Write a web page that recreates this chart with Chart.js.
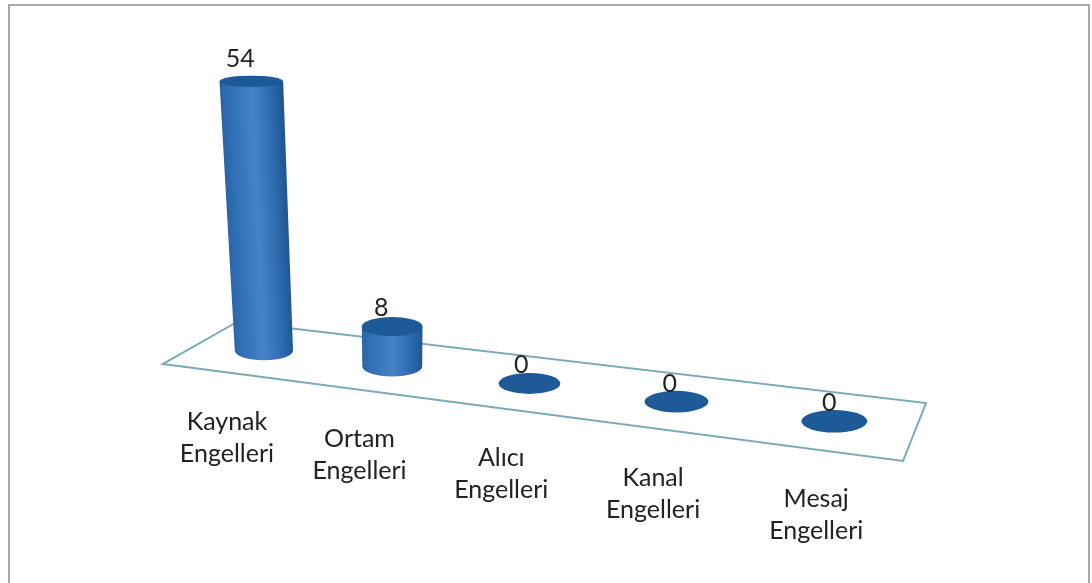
<!DOCTYPE html>
<html>
<head>
<meta charset="utf-8">
<style>
html,body{margin:0;padding:0;background:#fff;overflow:hidden}
#wrap{position:absolute;left:0;top:0;width:1092px;height:583px}
</style>
<script src="https://cdn.jsdelivr.net/npm/chart.js@4"></script>
</head>
<body>
<div id="wrap"><canvas id="c" width="1092" height="583"></canvas></div>
<script>
const categories = ["Kaynak Engelleri", "Ortam Engelleri", "Alıcı Engelleri", "Kanal Engelleri", "Mesaj Engelleri"];
const values = [54, 8, 0, 0, 0];
const yMax = 60;

// Perspective of the 3-D floor (front-left, front-right, back-right, back-left)
const floorQuad = [[163,364],[903,461],[926,403],[237,322]];
const vanishing = [400,3260];
const FONT = '25px Lato, "Open Sans", sans-serif';
const TEXT = '#222222';

function makeHomography(q){
  const [[x0,y0],[x1,y1],[x2,y2],[x3,y3]] = q;
  const dx1=x1-x2, dx2=x3-x2, sx=x0-x1+x2-x3;
  const dy1=y1-y2, dy2=y3-y2, sy=y0-y1+y2-y3;
  const det=dx1*dy2-dx2*dy1;
  const g=(sx*dy2-dx2*sy)/det, h=(dx1*sy-sx*dy1)/det;
  const a=x1-x0+g*x1, b=x3-x0+h*x3, d=y1-y0+g*y1, e=y3-y0+h*y3;
  return (u,v)=>{const w=g*u+h*v+1;return [(a*u+b*v+x0)/w,(d*u+e*v+y0)/w];};
}
const project = makeHomography(floorQuad);
const DEPTH = 0.49;
const U_SHIFT = 0.0035;

function cylinderGeom(chart, bar){
  const ca = chart.chartArea;
  const u = (bar.x-ca.left)/ca.width + U_SHIFT;
  const hw = bar.width/2/ca.width;
  const b = project(u,DEPTH);
  const raw = Math.abs(project(u+hw,DEPTH)[0]-project(u-hw,DEPTH)[0])/2;
  const rx = raw*0.5+17;
  const hPx = bar.base-bar.y;
  const t = hPx/(vanishing[1]-b[1]);
  const top = [b[0]+t*(b[0]-vanishing[0]), b[1]-hPx];
  const rxTop = rx*(1+t);
  return {b, top, rx, rxTop, ryB:rx*0.34, ryT:rxTop*Math.max(0.14,0.34-0.0006*hPx), hPx};
}

let activeChart = null;
Chart.BarElement.prototype.draw = function(ctx){
  const g = cylinderGeom(activeChart, this);
  ctx.save();
  if (g.hPx > 0.5){
    const mx=(g.b[0]+g.top[0])/2, my=(g.b[1]+g.top[1])/2;
    const ax=g.top[0]-g.b[0], ay=g.top[1]-g.b[1], L=Math.hypot(ax,ay);
    const px=-ay/L, py=ax/L, r=(g.rx+g.rxTop)/2;
    const grad=ctx.createLinearGradient(mx-px*r,my-py*r,mx+px*r,my+py*r);
    grad.addColorStop(0,'#2a64a6');
    grad.addColorStop(0.15,'#3070b5');
    grad.addColorStop(0.5,'#4682c6');
    grad.addColorStop(0.8,'#2f6bb1');
    grad.addColorStop(1,'#1d5690');
    ctx.beginPath();
    ctx.moveTo(g.top[0]-g.rxTop,g.top[1]);
    ctx.lineTo(g.b[0]-g.rx,g.b[1]);
    ctx.ellipse(g.b[0],g.b[1],g.rx,g.ryB,0,Math.PI,0,true);
    ctx.lineTo(g.top[0]+g.rxTop,g.top[1]);
    ctx.closePath();
    ctx.fillStyle=grad;
    ctx.fill();
  }
  ctx.beginPath();
  ctx.ellipse(g.top[0],g.top[1],g.rxTop,g.ryT,0,0,Math.PI*2);
  ctx.fillStyle='#1e5a98';
  ctx.fill();
  ctx.restore();
};

const scene = {
  id:'scene',
  beforeInit(chart){ activeChart = chart; },
  beforeDraw(chart){
    const ctx=chart.ctx;
    ctx.save();
    ctx.fillStyle='#fff';
    ctx.fillRect(0,0,chart.width,chart.height);
    ctx.strokeStyle='#a9a9a9';
    ctx.lineWidth=2;
    ctx.beginPath();
    ctx.moveTo(9,chart.height);
    ctx.lineTo(9,5);
    ctx.lineTo(1089,5);
    ctx.lineTo(1089,chart.height);
    ctx.stroke();
    ctx.restore();
  },
  beforeDatasetsDraw(chart){
    const ctx=chart.ctx;
    ctx.save();
    ctx.strokeStyle='#7aaaba';
    ctx.lineWidth=2;
    ctx.beginPath();
    floorQuad.forEach((p,i)=> i?ctx.lineTo(p[0],p[1]):ctx.moveTo(p[0],p[1]));
    ctx.closePath();
    ctx.stroke();
    ctx.restore();
  },
  afterDatasetsDraw(chart){
    const ctx=chart.ctx, meta=chart.getDatasetMeta(0), xs=chart.scales.x;
    ctx.save();
    ctx.font=FONT;
    ctx.fillStyle=TEXT;
    ctx.textAlign='center';
    ctx.textBaseline='middle';
    meta.data.forEach((bar,i)=>{
      const g=cylinderGeom(chart,bar);
      const dx=g.hPx>0.5?-11:-9;
      ctx.fillText(String(values[i]),g.top[0]+dx+(g.b[0]>450?(g.b[0]-450)*0.01:0),g.top[1]-18-g.hPx*0.015);
      const lines=xs.getLabelForValue(i).split(' ');
      const lx=g.b[0]-37+(g.b[0]-263)*0.033;
      const ly=g.b[1]+87+(g.b[0]-263)*0.012;
      lines.forEach((s,k)=>ctx.fillText(s,lx,ly+(k-0.5)*32));
    });
    ctx.restore();
  }
};

new Chart(document.getElementById('c'),{
  type:'bar',
  data:{labels:categories,datasets:[{data:values,backgroundColor:'#2f6cb1',barPercentage:1,categoryPercentage:0.39,clip:false}]},
  plugins:[scene],
  options:{
    responsive:false,
    animation:false,
    layout:{padding:{left:165,right:166,top:60,bottom:224}},
    plugins:{legend:{display:false},tooltip:{enabled:false}},
    scales:{
      x:{display:false},
      y:{display:false,min:0,max:yMax}
    }
  }
});
</script>
</body>
</html>
